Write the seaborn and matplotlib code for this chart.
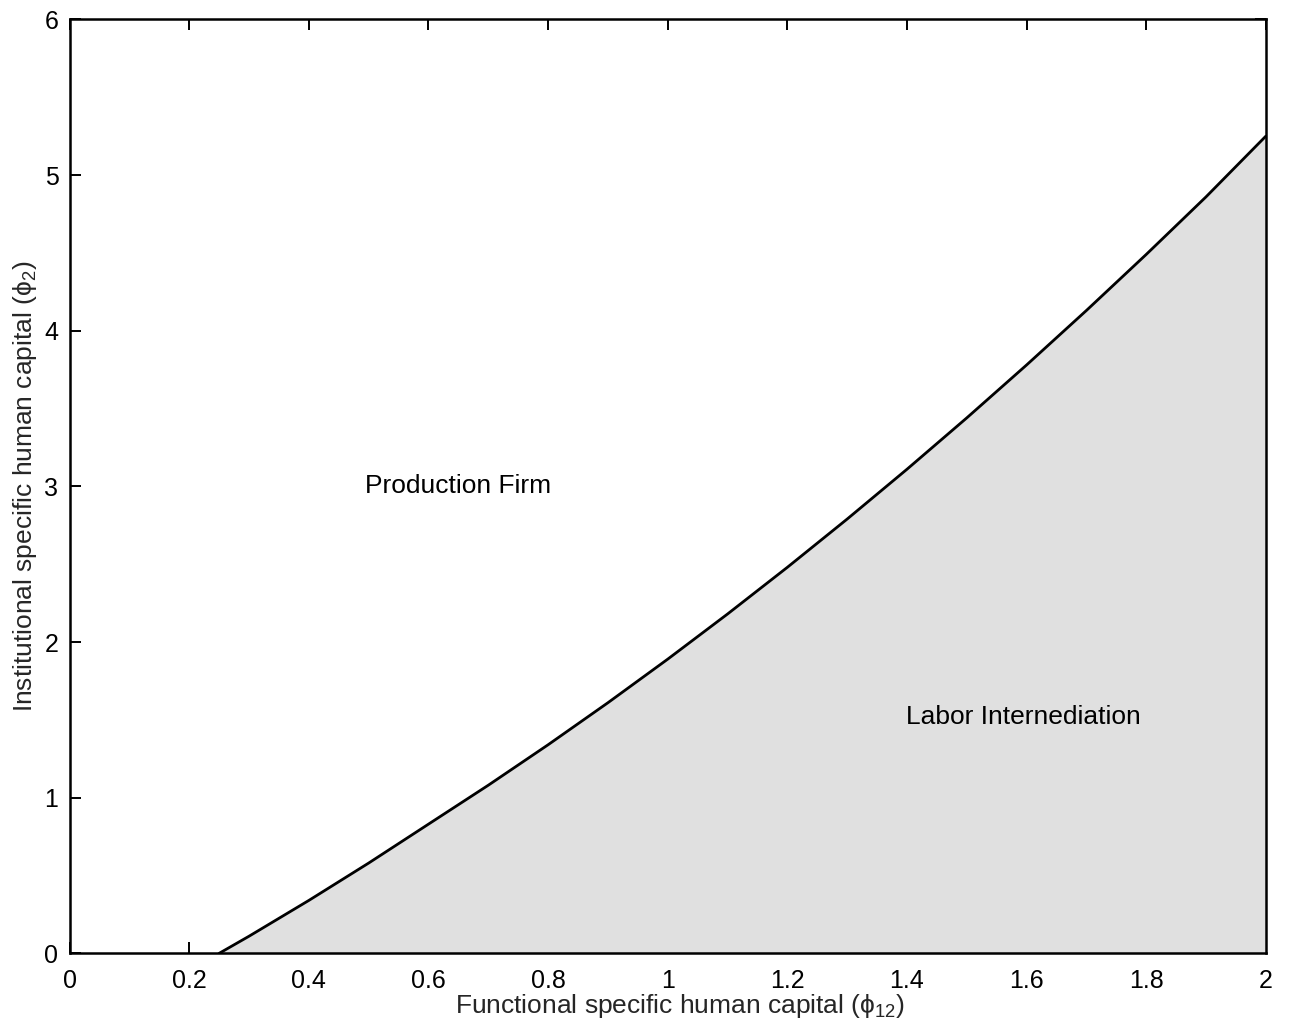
import matplotlib
matplotlib.use("Agg")
import matplotlib.pyplot as plt
import seaborn as sns
import pandas as pd

# Boundary between the two organisational forms
phi12 = [0.25, 0.30, 0.40, 0.50, 0.60, 0.70, 0.80, 0.90, 1.00, 1.10,
         1.20, 1.30, 1.40, 1.50, 1.60, 1.70, 1.80, 1.90, 2.00]
phi2 = [0.00, 0.11, 0.34, 0.58, 0.83, 1.08, 1.34, 1.61, 1.89, 2.18,
        2.48, 2.79, 3.11, 3.44, 3.78, 4.13, 4.49, 4.86, 5.25]

x_ticks = [0, 0.2, 0.4, 0.6, 0.8, 1, 1.2, 1.4, 1.6, 1.8, 2]
x_tick_labels = ["0", "0.2", "0.4", "0.6", "0.8", "1", "1.2", "1.4", "1.6", "1.8", "2"]
y_ticks = [0, 1, 2, 3, 4, 5, 6]
y_tick_labels = ["0", "1", "2", "3", "4", "5", "6"]

region_labels = ["Production Firm", "Labor Internediation"]
region_x = [0.65, 1.595]
region_y = [3.0, 1.52]

boundary = pd.DataFrame({"phi12": phi12, "phi2": phi2})

sns.set_theme(style="white")
plt.rcParams["font.family"] = ["Liberation Sans", "DejaVu Sans"]
plt.rcParams["mathtext.fontset"] = "custom"
plt.rcParams["mathtext.rm"] = "Liberation Sans"
plt.rcParams["mathtext.it"] = "Liberation Sans"

fig = plt.figure(figsize=(12.89, 10.24), dpi=100)
ax = fig.add_axes([0.054, 0.069, 0.928, 0.912])

ax.fill_between(boundary["phi12"], 0, boundary["phi2"],
                color="#e0e0e0", linewidth=0, zorder=1)
sns.lineplot(data=boundary, x="phi12", y="phi2", ax=ax,
             color="black", linewidth=2.0, zorder=3)

ax.set_xlim(0, 2)
ax.set_ylim(0, 6)
ax.set_xticks(x_ticks)
ax.set_xticklabels(x_tick_labels)
ax.set_yticks(y_ticks)
ax.set_yticklabels(y_tick_labels)

ax.tick_params(axis="both", which="major", direction="in", length=8, width=1.4,
               labelsize=18, colors="black",
               top=True, right=True, bottom=True, left=True)
ax.tick_params(axis="x", pad=11)
ax.tick_params(axis="y", pad=8)

for side in ["left", "right", "top", "bottom"]:
    ax.spines[side].set_visible(True)
    ax.spines[side].set_color("black")
    ax.spines[side].set_linewidth(1.8)

ax.set_xlabel(r"Functional specific human capital ($\phi_{12}$)", fontsize=19)
ax.set_ylabel(r"Institutional specific human capital ($\phi_{2}$)", fontsize=19)
ax.xaxis.set_label_coords(0.51, -0.041)
ax.yaxis.set_label_coords(-0.026, 0.5)

for label, lx, ly in zip(region_labels, region_x, region_y):
    ax.text(lx, ly, label, fontsize=19, ha="center", va="center",
            color="black", zorder=4)

fig.savefig("out.png", dpi=100, facecolor="white")
